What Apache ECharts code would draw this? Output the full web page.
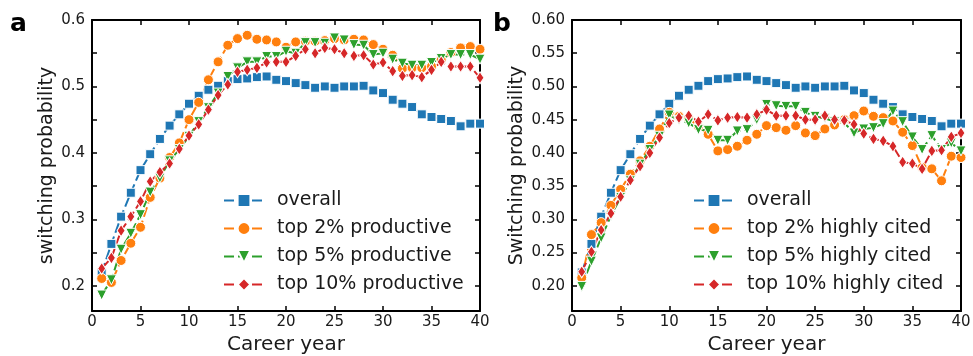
<!DOCTYPE html>
<html>
<head>
<meta charset="utf-8">
<script src="https://cdn.jsdelivr.net/npm/echarts@6/dist/echarts.min.js"></script>
<style>
html, body { margin: 0; padding: 0; background: #fff; }
#chart { width: 973px; height: 356px; }
</style>
</head>
<body>
<div id="chart"></div>
<script>
// career years (x)
const years = [1, 2, 3, 4, 5, 6, 7, 8, 9, 10, 11, 12, 13, 14, 15, 16, 17, 18, 19, 20,
	21, 22, 23, 24, 25, 26, 27, 28, 29, 30, 31, 32, 33, 34, 35, 36, 37, 38, 39, 40];

// all scientists (same curve in both panels)
const overall = [0.220, 0.263, 0.304, 0.340, 0.374, 0.398, 0.421, 0.441, 0.458, 0.474,
	0.486, 0.495, 0.501, 0.508, 0.511, 0.512, 0.514, 0.515, 0.510, 0.508,
	0.505, 0.502, 0.498, 0.500, 0.498, 0.500, 0.500, 0.501, 0.494, 0.490,
	0.480, 0.474, 0.469, 0.458, 0.454, 0.451, 0.448, 0.440, 0.444, 0.444];

// panel a : productive
const top2Prod = [0.211, 0.205, 0.238, 0.264, 0.288, 0.333, 0.362, 0.393, 0.415, 0.450,
	0.476, 0.510, 0.537, 0.562, 0.572, 0.577, 0.571, 0.570, 0.567, 0.559,
	0.567, 0.568, 0.568, 0.569, 0.572, 0.570, 0.571, 0.570, 0.563, 0.556,
	0.547, 0.527, 0.528, 0.528, 0.530, 0.540, 0.551, 0.558, 0.560, 0.556];
const top5Prod = [0.186, 0.209, 0.255, 0.279, 0.307, 0.341, 0.362, 0.388, 0.405, 0.425,
	0.447, 0.468, 0.490, 0.515, 0.528, 0.537, 0.537, 0.545, 0.545, 0.553,
	0.550, 0.566, 0.566, 0.565, 0.573, 0.570, 0.563, 0.562, 0.548, 0.550,
	0.541, 0.535, 0.532, 0.532, 0.536, 0.542, 0.548, 0.548, 0.548, 0.541];
const top10Prod = [0.226, 0.242, 0.283, 0.304, 0.327, 0.357, 0.371, 0.384, 0.406, 0.426,
	0.443, 0.465, 0.487, 0.503, 0.522, 0.525, 0.528, 0.536, 0.537, 0.537,
	0.546, 0.556, 0.550, 0.558, 0.556, 0.550, 0.546, 0.547, 0.533, 0.536,
	0.523, 0.516, 0.517, 0.514, 0.525, 0.537, 0.530, 0.530, 0.530, 0.513];

// panel b : highly cited
const top2Cited = [0.212, 0.277, 0.295, 0.321, 0.345, 0.368, 0.388, 0.410, 0.436, 0.461,
	0.455, 0.452, 0.440, 0.428, 0.403, 0.405, 0.410, 0.419, 0.428, 0.441,
	0.438, 0.434, 0.441, 0.430, 0.426, 0.436, 0.442, 0.450, 0.456, 0.463,
	0.455, 0.453, 0.448, 0.431, 0.411, 0.378, 0.376, 0.358, 0.395, 0.393];
const top5Cited = [0.199, 0.237, 0.272, 0.305, 0.333, 0.358, 0.383, 0.405, 0.425, 0.457,
	0.449, 0.445, 0.435, 0.434, 0.419, 0.419, 0.433, 0.435, 0.450, 0.473,
	0.471, 0.470, 0.470, 0.461, 0.455, 0.452, 0.447, 0.445, 0.430, 0.436,
	0.438, 0.444, 0.463, 0.447, 0.424, 0.405, 0.426, 0.405, 0.415, 0.403];
const top10Cited = [0.221, 0.251, 0.284, 0.309, 0.334, 0.359, 0.380, 0.400, 0.423, 0.445,
	0.453, 0.456, 0.447, 0.458, 0.449, 0.453, 0.454, 0.453, 0.458, 0.465,
	0.456, 0.456, 0.456, 0.450, 0.450, 0.456, 0.450, 0.449, 0.443, 0.429,
	0.421, 0.418, 0.410, 0.386, 0.384, 0.376, 0.403, 0.404, 0.424, 0.430];

const FONT = 'DejaVu Sans';
const INK = '#1a1a1a';
const C_BLUE = '#1f77b4', C_ORANGE = '#ff7f0e', C_GREEN = '#2ca02c', C_RED = '#d62728';

const chart = echarts.init(document.getElementById('chart'));

function xAxes(g) {
	const base = {
		gridIndex: g,
		type: 'value',
		min: 0,
		max: 40,
		interval: 5,
		axisLine: { show: true, onZero: false, lineStyle: { color: '#000', width: 2 } },
		axisTick: { show: true, inside: true, length: 5, lineStyle: { color: '#000', width: 1.5 } },
		splitLine: { show: false }
	};
	return [
		Object.assign({}, base, {
			position: 'bottom',
			axisLabel: { fontFamily: FONT, fontSize: 15, color: INK, margin: 4 },
			name: 'Career year',
			nameLocation: 'middle',
			nameGap: 24,
			nameTextStyle: { fontFamily: FONT, fontSize: 20, color: INK }
		}),
		Object.assign({}, base, { position: 'top', axisLabel: { show: false } })
	];
}

function yAxes(g, title, step, digits) {
	const base = {
		gridIndex: g,
		type: 'value',
		min: 0.162,
		max: 0.6,
		splitNumber: 9,
		axisLine: { show: true, onZero: false, lineStyle: { color: '#000', width: 2 } },
		axisTick: { show: true, inside: true, length: 5, lineStyle: { color: '#000', width: 1.5 } },
		splitLine: { show: false }
	};
	return [
		Object.assign({}, base, {
			position: 'left',
			axisLabel: {
				fontFamily: FONT, fontSize: 15, color: INK, margin: 7,
				formatter: function (v) {
					const k = v / step;
					return Math.abs(k - Math.round(k)) < 1e-6 ? v.toFixed(digits) : '';
				}
			},
			name: title,
			nameLocation: 'middle',
			nameGap: g === 0 ? 35 : 45,
			nameTextStyle: { fontFamily: FONT, fontSize: 19, color: INK }
		}),
		Object.assign({}, base, { position: 'right', axisLabel: { show: false } })
	];
}

function line(name, ys, color, symbol, size, rot, g) {
	return {
		name: name,
		type: 'line',
		xAxisIndex: g * 2,
		yAxisIndex: g * 2,
		data: years.map((x, i) => [x, ys[i]]),
		symbol: symbol,
		symbolSize: size,
		symbolRotate: rot,
		showAllSymbol: true,
		lineStyle: { color: color, width: 2, type: [10, 4] },
		itemStyle: { color: color, borderColor: '#fff', borderWidth: 1 },
		emphasis: { disabled: true }
	};
}

function legend(left, names) {
	return {
		orient: 'vertical',
		left: left,
		top: 186,
		itemWidth: 40,
		itemHeight: 16,
		itemGap: 9,
		data: names,
		selectedMode: false,
		textStyle: { fontFamily: FONT, fontSize: 19, color: INK, lineHeight: 19, padding: [0, 0, 0, 8] }
	};
}

let option = {
	animation: false,
	grid: [
		{ left: 92, top: 20, width: 388, height: 291, containLabel: false, outerBoundsMode: 'none' },
		{ left: 572, top: 20, width: 389, height: 291, containLabel: false, outerBoundsMode: 'none' }
	],
	xAxis: [...xAxes(0), ...xAxes(1)],
	yAxis: [...yAxes(0, 'switching probability', 0.1, 1), ...yAxes(1, 'Switching probability', 0.05, 2)],
	legend: [
		legend(218, ['overall', 'top 2% productive', 'top 5% productive', 'top 10% productive']),
		legend(688, ['overall', 'top 2% highly cited', 'top 5% highly cited', 'top 10% highly cited'])
	],
	graphic: [
		{ type: 'text', left: 10, top: 12, style: { text: 'a', font: 'bold 25px "DejaVu Sans"', fill: '#000' } },
		{ type: 'text', left: 493, top: 12, style: { text: 'b', font: 'bold 25px "DejaVu Sans"', fill: '#000' } }
	],
	series: [
		line('overall', overall, C_BLUE, 'rect', 9, 0, 0),
		line('top 2% productive', top2Prod, C_ORANGE, 'circle', 10, 0, 0),
		line('top 5% productive', top5Prod, C_GREEN, 'triangle', 10, 180, 0),
		line('top 10% productive', top10Prod, C_RED, 'diamond', [8, 12], 0, 0),
		line('overall', overall, C_BLUE, 'rect', 9, 0, 1),
		line('top 2% highly cited', top2Cited, C_ORANGE, 'circle', 10, 0, 1),
		line('top 5% highly cited', top5Cited, C_GREEN, 'triangle', 10, 180, 1),
		line('top 10% highly cited', top10Cited, C_RED, 'diamond', [8, 12], 0, 1)
	]
};
chart.setOption(option);
</script>
</body>
</html>
